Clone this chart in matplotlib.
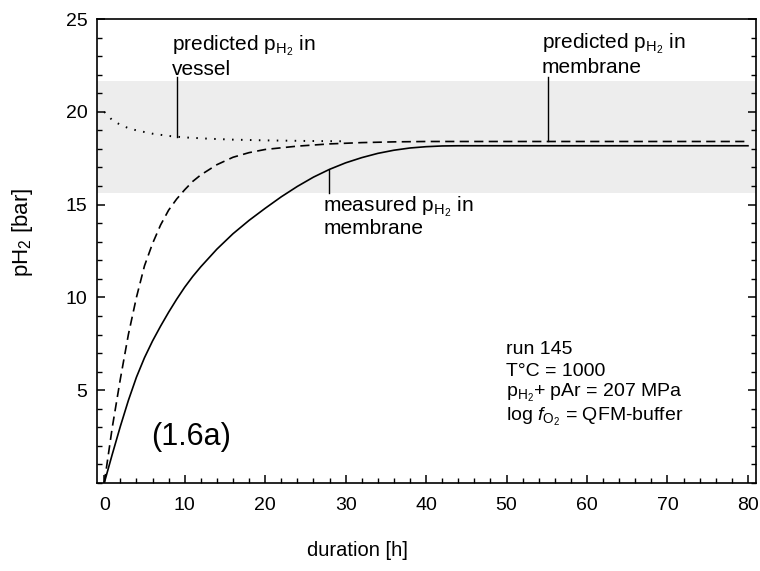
import matplotlib
matplotlib.use("Agg")
import matplotlib.pyplot as plt
import numpy as np
from matplotlib.ticker import MultipleLocator

plt.rcParams["font.family"] = ["Liberation Sans", "DejaVu Sans"]
plt.rcParams["mathtext.fontset"] = "custom"
plt.rcParams["mathtext.rm"] = "Liberation Sans"
plt.rcParams["mathtext.it"] = "Liberation Sans:italic"

# measured pH2 in membrane (solid)
measured_x = [0, 1, 2, 3, 4, 5, 6, 7, 8, 9, 10, 11, 12, 14, 16, 18, 20, 22, 24, 26, 28, 30,
              32, 34, 36, 38, 40, 42, 44, 50, 60, 70, 80]
measured_y = [0, 1.55, 3.05, 4.45, 5.7, 6.75, 7.65, 8.45, 9.2, 9.9, 10.55, 11.13, 11.65,
              12.6, 13.43, 14.15, 14.8, 15.42, 15.98, 16.48, 16.9, 17.25, 17.53, 17.76,
              17.93, 18.05, 18.12, 18.16, 18.17, 18.17, 18.17, 18.17, 18.17]

# predicted pH2 in membrane (dashed)
membrane_x = [0, 1, 2, 3, 4, 5, 6, 7, 8, 9, 10, 11, 12, 14, 16, 18, 20, 24, 28, 32, 36,
              40, 50, 60, 70, 80]
membrane_y = [0, 3.0, 5.6, 8.0, 10.0, 11.7, 12.9, 13.9, 14.7, 15.3, 15.8, 16.25, 16.6,
              17.15, 17.55, 17.8, 17.97, 18.15, 18.27, 18.34, 18.38, 18.4, 18.4, 18.4,
              18.4, 18.4]

# predicted pH2 in vessel (dotted)
vessel_x = [0, 1, 2, 3, 4, 6, 8, 10, 13, 16, 20, 25, 30]
vessel_y = [20.0, 19.55, 19.3, 19.12, 19.0, 18.82, 18.7, 18.62, 18.55, 18.5, 18.46, 18.43, 18.41]

band_y = [15.6, 21.65]

fig = plt.figure(figsize=(7.6, 5.71), dpi=100)
ax = fig.add_axes([97 / 760, 1 - 483 / 571, (756 - 97) / 760, (483 - 19) / 571])

ax.axhspan(band_y[0], band_y[1], color="#ededed", lw=0, zorder=0)
ax.plot(measured_x, measured_y, color="black", lw=1.2, zorder=3)
ax.plot(membrane_x, membrane_y, color="black", lw=1.2, dashes=(5.5, 3.2), zorder=3)
ax.plot(vessel_x, vessel_y, color="black", lw=1.4, linestyle=(0, (0.8, 3.8)), zorder=3)

# leader lines from curve to label
leader_lw = 1.0
x = 9.1
ax.plot([x, x], [np.interp(x, vessel_x, vessel_y), 21.9], color="black", lw=leader_lw)
x = 55.2
ax.plot([x, x], [np.interp(x, membrane_x, membrane_y), 21.9], color="black", lw=leader_lw)
x = 27.9
ax.plot([x, x], [np.interp(x, measured_x, measured_y), 15.6], color="black", lw=leader_lw)

fs = 15
sub = r"p$_{\mathrm{H}_2}$"
ax.text(8.45, 23.33, "predicted " + sub + " in", fontsize=fs, va="baseline")
ax.text(8.45, 22.0, "vessel", fontsize=fs, va="baseline")
ax.text(54.4, 23.4, "predicted " + sub + " in", fontsize=fs, va="baseline")
ax.text(54.4, 22.1, "membrane", fontsize=fs, va="baseline")
ax.text(27.2, 14.64, "measured " + sub + " in", fontsize=fs, va="baseline")
ax.text(27.2, 13.4, "membrane", fontsize=fs, va="baseline")

fs_run = 14
ax.text(49.9, 6.95, "run 145", fontsize=fs_run, va="baseline")
ax.text(49.9, 5.78, "T°C = 1000", fontsize=fs_run, va="baseline")
ax.text(49.9, 4.62, sub + "+ pAr = 207 MPa", fontsize=fs_run, va="baseline")
ax.text(49.9, 3.36, r"log $f_{\mathrm{O}_2}$ = QFM-buffer", fontsize=fs_run, va="baseline")

ax.text(5.85, 2.5, "(1.6a)", fontsize=22, va="center")

ax.set_xlim(-0.9, 81)
ax.set_ylim(0, 25)
ax.xaxis.set_major_locator(MultipleLocator(10))
ax.xaxis.set_minor_locator(MultipleLocator(2))
ax.set_yticks([5, 10, 15, 20, 25])
ax.yaxis.set_minor_locator(MultipleLocator(1))
ax.tick_params(axis="both", which="major", direction="in", length=6, width=1.1, labelsize=14)
ax.tick_params(axis="both", which="minor", direction="in", length=3.5, width=1.0)
ax.tick_params(axis="x", which="both", pad=10)
ax.tick_params(axis="y", which="both", pad=7, right=True)
for s in ax.spines.values():
    s.set_linewidth(1.2)

ax.set_xlabel("duration [h]", fontsize=14.5)
ax.xaxis.set_label_coords((357 - 97) / (756 - 97), -0.125)
ax.set_ylabel(r"pH$_2$ [bar]", fontsize=16)
ax.yaxis.set_label_coords(-0.094, 0.54)

fig.savefig("out.png", dpi=100)
